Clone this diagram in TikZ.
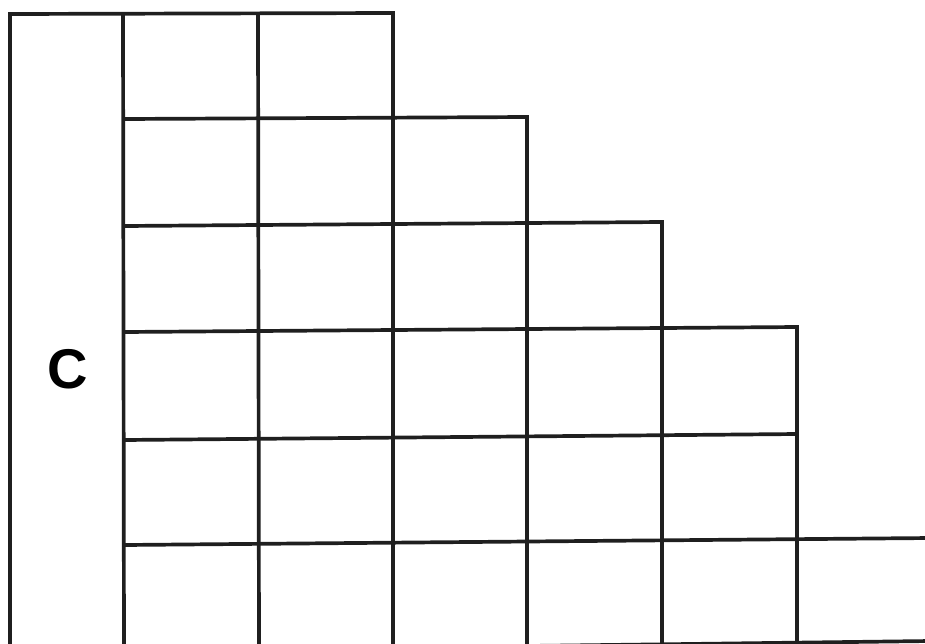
\documentclass[tikz,border=0pt]{standalone}
\usepackage{fontspec}
\setmainfont{Liberation Sans}
\begin{document}
\begin{tikzpicture}[x=1pt,y=-1pt,
  gridline/.style={line width=3.7pt,draw=black!88,line cap=rect},
  lbl/.style={font=\bfseries\fontsize{56}{62}\selectfont,inner sep=0pt}]
\useasboundingbox (0,0) rectangle (925,643);
\clip (0,0) rectangle (925,643);
% left tall cell
\draw[gridline] (10,660) -- (10,14) -- (393,13);
% vertical lines
\draw[gridline] (124,660) -- (123,14);
\draw[gridline] (259,660) -- (258,14);
\draw[gridline] (393,660) -- (393,13);
\draw[gridline] (527,660) -- (527,117);
\draw[gridline] (662,660) -- (662,222);
\draw[gridline] (797,660) -- (797,327);
% horizontal lines
\draw[gridline] (124,119) -- (527,117);
\draw[gridline] (124,226) -- (662,222);
\draw[gridline] (124,332) -- (797,327);
\draw[gridline] (124,440) -- (797,434);
\draw[gridline] (124,545) -- (930,538);
\draw[gridline] (527,646) -- (930,641);
% label
\node[lbl] (c) at (68,369) {C};
\end{tikzpicture}
\end{document}
